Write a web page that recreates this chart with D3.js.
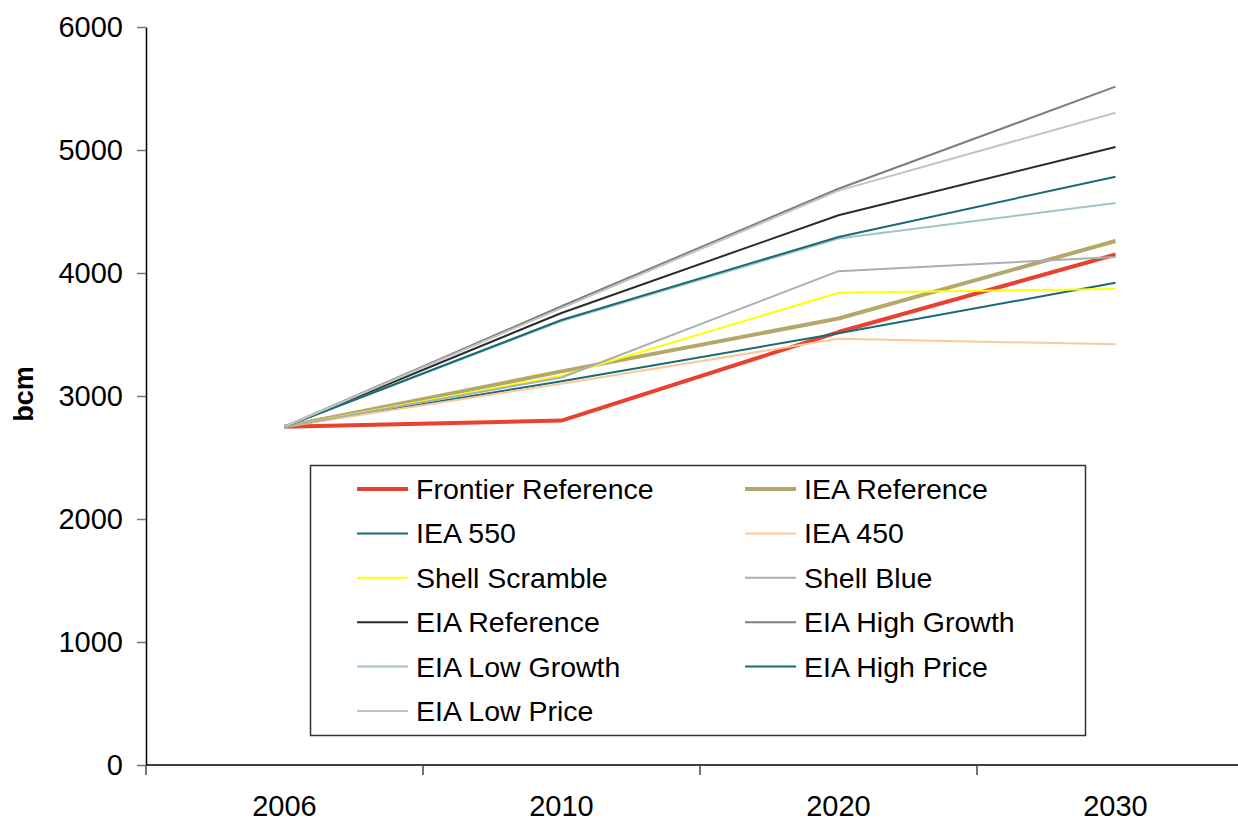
<!DOCTYPE html>
<html>
<head>
<meta charset="utf-8">
<script src="https://cdn.jsdelivr.net/npm/d3@7/dist/d3.min.js"></script>
<style>
  html, body { margin: 0; padding: 0; background: #fff; }
  svg { display: block; font-family: "Liberation Sans", Arial, sans-serif; }
</style>
</head>
<body>
<svg id="chart" width="1238" height="823"></svg>
<script>
// Natural gas demand projections (bcm)
const years = ["2006", "2010", "2020", "2030"];
const yTicks = [0, 1000, 2000, 3000, 4000, 5000, 6000];

const seriesNames = [
  "Frontier Reference", "IEA Reference",
  "IEA 550", "IEA 450",
  "Shell Scramble", "Shell Blue",
  "EIA Reference", "EIA High Growth",
  "EIA Low Growth", "EIA High Price",
  "EIA Low Price"
];

const frontierReference = [2750, 2800, 3520, 4150];
const ieaReference      = [2750, 3200, 3630, 4260];
const iea550            = [2750, 3120, 3510, 3920];
const iea450            = [2750, 3100, 3465, 3420];
const shellScramble     = [2750, 3165, 3840, 3870];
const shellBlue         = [2750, 3150, 4015, 4130];
const eiaReference      = [2750, 3675, 4470, 5025];
const eiaHighGrowth     = [2750, 3730, 4685, 5515];
const eiaLowGrowth      = [2750, 3610, 4280, 4570];
const eiaHighPrice      = [2750, 3618, 4293, 4783];
const eiaLowPrice       = [2750, 3715, 4670, 5303];

const seriesValues = [
  frontierReference, ieaReference, iea550, iea450, shellScramble, shellBlue,
  eiaReference, eiaHighGrowth, eiaLowGrowth, eiaHighPrice, eiaLowPrice
];

const colors = [
  "#e8412f", "#b3a86a", "#186a76", "#fcc89b", "#ffff00", "#a9aeb3",
  "#2b2b2b", "#7d7d7d", "#9fc5c8", "#186a76", "#c3c3c3"
];
const widths = [4, 4, 2, 2, 2, 2, 2, 2, 2, 2, 2];

const series = seriesNames.map((name, i) => ({
  name, values: seriesValues[i], color: colors[i], width: widths[i]
}));

const svg = d3.select("#chart");

const plotLeft = 146, plotTop = 27, plotBottom = 765;
const x = d3.scaleBand().domain(years).range([plotLeft, plotLeft + 4 * 277]);
const y = d3.scaleLinear().domain([0, 6000]).range([plotBottom, plotTop]);

// Y axis
const yAxis = svg.append("g")
  .attr("transform", `translate(${plotLeft},0)`)
  .call(d3.axisLeft(y).tickValues(yTicks).tickFormat(d3.format("d"))
    .tickSize(9).tickPadding(14).tickSizeOuter(0));
yAxis.select(".domain").attr("stroke", "#000").attr("stroke-width", 1.5);
yAxis.selectAll(".tick line").attr("stroke", "#777").attr("stroke-width", 1.5);
yAxis.selectAll(".tick text")
  .attr("font-size", 29).attr("fill", "#000")
  .attr("font-family", "Liberation Sans, Arial, sans-serif");

// X axis with ticks at category boundaries
const xAxis = svg.append("g").attr("transform", `translate(0,${plotBottom})`);
xAxis.append("line")
  .attr("x1", plotLeft).attr("x2", 1238)
  .attr("y1", 0).attr("y2", 0)
  .attr("stroke", "#000").attr("stroke-width", 1.5);
const boundaries = years.map(d => x(d)).concat([x(years[years.length - 1]) + x.bandwidth()]);
xAxis.selectAll("line.tick")
  .data(boundaries)
  .join("line")
  .attr("class", "tick")
  .attr("x1", d => d).attr("x2", d => d)
  .attr("y1", 0).attr("y2", 10)
  .attr("stroke", "#444").attr("stroke-width", 1.5);
xAxis.selectAll("text")
  .data(years)
  .join("text")
  .attr("x", d => x(d) + x.bandwidth() / 2)
  .attr("y", 51)
  .attr("text-anchor", "middle")
  .attr("font-size", 29)
  .attr("fill", "#000")
  .text(d => d);

// Axis title
svg.append("text")
  .attr("transform", "translate(33,394) rotate(-90)")
  .attr("text-anchor", "middle")
  .attr("font-size", 27)
  .attr("font-weight", "bold")
  .text("bcm");

// Series lines
const line = d3.line()
  .x((d, i) => x(years[i]) + x.bandwidth() / 2)
  .y(d => y(d));

svg.append("g")
  .selectAll("path")
  .data(series)
  .join("path")
  .attr("d", d => line(d.values))
  .attr("fill", "none")
  .attr("stroke", d => d.color)
  .attr("stroke-width", d => d.width)
  .attr("stroke-linejoin", "round");

// Legend
const legend = svg.append("g");
legend.append("rect")
  .attr("x", 310.5).attr("y", 465.5)
  .attr("width", 775).attr("height", 270)
  .attr("fill", "#fff")
  .attr("stroke", "#333").attr("stroke-width", 1.5);

const colX = [357, 745];
const rowY0 = 489, rowStep = 44.4;
const items = legend.selectAll("g.item")
  .data(series)
  .join("g")
  .attr("class", "item")
  .attr("transform", (d, i) => `translate(${colX[i % 2]},${rowY0 + Math.floor(i / 2) * rowStep})`);
items.append("line")
  .attr("x1", 0).attr("x2", 51)
  .attr("y1", 0).attr("y2", 0)
  .attr("stroke", d => d.color)
  .attr("stroke-width", d => d.width);
items.append("text")
  .attr("x", 59)
  .attr("y", 0)
  .attr("dy", "0.35em")
  .attr("font-size", 28.5)
  .attr("fill", "#000")
  .text(d => d.name);
</script>
</body>
</html>
